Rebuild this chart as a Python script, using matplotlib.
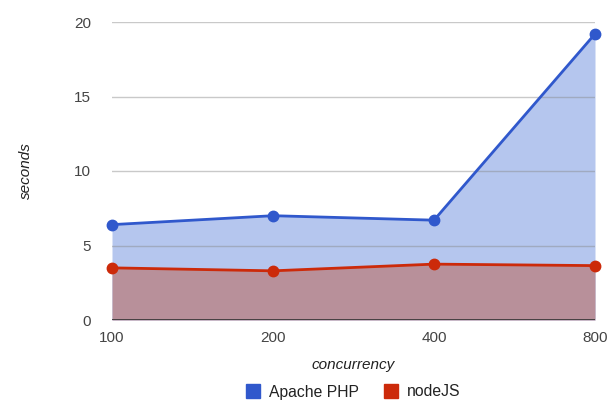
import numpy as np
import matplotlib.pyplot as plt
from matplotlib.lines import Line2D

plt.rcParams['font.family'] = ['Liberation Sans', 'DejaVu Sans']

# dados
concurrency = ['100', '200', '400', '800']
apache_php = [6.4, 7.0, 6.7, 19.2]
nodejs = [3.5, 3.3, 3.75, 3.65]

blue = '#3058cc'
red = '#cc2a0a'
x = np.arange(len(concurrency))

fig = plt.figure(figsize=(6.08, 4.01), dpi=100)
ax = fig.add_axes([112/608, 1-320/401, (595-112)/608, (320-22)/401])

ax.fill_between(x, 0, apache_php, color='#b5c6ee', lw=0, zorder=1)
for g in [5, 10, 15, 20]:
    ax.axhline(g, color='#888888', lw=1, alpha=0.45, zorder=2)
ax.fill_between(x, 0, nodejs, color='#b8909a', lw=0, zorder=3)
ax.plot(x, apache_php, color=blue, lw=2, marker='o', ms=7.5, zorder=4, clip_on=False)
ax.plot(x, nodejs, color=red, lw=2, marker='o', ms=7.5, zorder=4, clip_on=False)
ax.axhline(0, color='#333333', lw=1.2, zorder=5)

ax.set_xlim(0, 3)
ax.set_ylim(0, 20)
ax.set_xticks(x)
ax.set_xticklabels(concurrency)
ax.set_yticks([0, 5, 10, 15, 20])
for s in ax.spines.values():
    s.set_visible(False)
ax.tick_params(length=0, labelsize=11, colors='#444444')
ax.tick_params(axis='y', pad=15)
ax.tick_params(axis='x', pad=8)

ax.set_xlabel('concurrency', fontsize=11, style='italic', color='#222222', labelpad=9)
ax.set_ylabel('seconds', fontsize=11, style='italic', color='#222222', labelpad=30)

handles = [Line2D([], [], ls='', marker='s', ms=10.5, color=blue),
           Line2D([], [], ls='', marker='s', ms=10.5, color=red)]
fig.legend(handles, ['Apache PHP', 'nodeJS'], loc='center', bbox_to_anchor=(0.579, 1-392/401),
           ncol=2, frameon=False, fontsize=11.3, handletextpad=0.4, handlelength=1.2,
           columnspacing=1.5, labelcolor='#222222')

fig.savefig('out.png', dpi=100)
